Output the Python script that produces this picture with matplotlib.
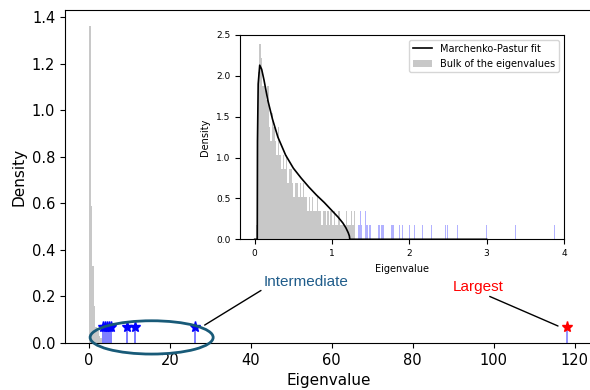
import numpy as np
import matplotlib
matplotlib.use('Agg')
import matplotlib.pyplot as plt
from matplotlib.patches import Ellipse

# ---- main panel data ----
main_bin_w = 0.4
main_density = [1.36, 0.59, 0.33, 0.16, 0.07, 0.05, 0.03, 0.02]
intermediate_eigs = [3.4, 3.9, 4.4, 4.9, 5.4, 9.3, 11.5, 26.2]
largest_eig = 118.2
marker_height = 0.07

# ---- inset data ----
inset_bin_w = 0.02
count_unit = 0.171   # density of one eigenvalue in a bin
bulk_counts = [0, 1, 12, 14, 13, 11, 11, 10, 11, 8,
               7, 9, 8, 7, 6, 8, 6, 5, 6, 5,
               6, 4, 5, 5, 4, 3, 4, 4, 3, 4,
               3, 4, 3, 3, 2, 3, 2, 3, 2, 2,
               3, 2, 2, 1, 2, 2, 1, 2, 1, 2,
               1, 2, 1, 1, 2, 1, 1, 1, 1, 2,
               1, 1, 2, 1, 2]
outlier_eigs = [1.34, 1.355, 1.37, 1.385, 1.40, 1.43, 1.445, 1.46, 1.48, 1.50, 1.53,
                1.60, 1.615, 1.64, 1.655, 1.67, 1.685,
                1.77, 1.785, 1.80, 1.815, 1.87, 1.91, 2.00, 2.07, 2.17, 2.29,
                2.47, 2.49, 2.62, 3.00, 3.37, 3.88]
outlier_counts = [1, 1, 2, 1, 2, 2, 1, 1, 1, 1, 2,
                  1, 1, 1, 1, 1, 1,
                  1, 1, 1, 1, 1, 1, 1, 1, 1, 1,
                  1, 1, 1, 1, 1, 1]
mp_x = [0.0, 0.033, 0.036, 0.045, 0.065, 0.09, 0.12, 0.17, 0.23, 0.30, 0.40,
        0.50, 0.60, 0.70, 0.80, 0.90, 1.00, 1.08, 1.14, 1.18, 1.21, 1.225,
        1.23, 3.0]
mp_y = [0, 0, 1.2, 1.9, 2.13, 2.08, 1.95, 1.70, 1.47, 1.25, 1.03,
        0.87, 0.75, 0.64, 0.54, 0.45, 0.35, 0.27, 0.2, 0.14, 0.08, 0.04,
        0, 0]

gray = '#c8c8c8'

fig = plt.figure(figsize=(5.9, 3.9), dpi=100)
ax = fig.add_axes([0.1102, 0.1205, 0.8932, 0.8538])

# main histogram
main_edges = np.arange(len(main_density)) * main_bin_w
ax.bar(main_edges, main_density, width=main_bin_w, align='edge', color=gray, linewidth=0)

# stems + stars
ax.vlines(intermediate_eigs, 0, marker_height, color='blue', alpha=0.6, lw=1.2)
ax.vlines([largest_eig], 0, marker_height, color='blue', alpha=0.5, lw=1.2)
ax.plot(intermediate_eigs, [marker_height] * len(intermediate_eigs), '*', color='blue', ms=8, lw=0)
ax.plot([largest_eig], [marker_height], '*', color='red', ms=8)

ax.set_xlim(-5.9, 124.3)
ax.set_ylim(0, 1.43)
ax.set_xticks([0, 20, 40, 60, 80, 100, 120])
ax.set_yticks(np.arange(0, 1.41, 0.2))
ax.tick_params(labelsize=10.5)
ax.spines['right'].set_visible(False)
ax.set_xlabel('Eigenvalue', fontsize=11)
ax.set_ylabel('Density', fontsize=11)

ell = Ellipse((15.5, 0.024), 30.4, 0.143, fill=False, edgecolor='#185a78', lw=2, clip_on=False, zorder=5)
ax.add_patch(ell)

ax.annotate('Intermediate', xy=(28.6, 0.077), xytext=(43.2, 0.263),
            color='#1f5c8a', fontsize=11, family='Liberation Sans', va='center',
            arrowprops=dict(arrowstyle='-', color='black', lw=1, relpos=(0, 0), shrinkA=0, shrinkB=0))
ax.annotate('Largest', xy=(115.9, 0.073), xytext=(89.9, 0.242),
            color='red', fontsize=11, family='Liberation Sans', va='center',
            arrowprops=dict(arrowstyle='-', color='black', lw=1, relpos=(0.6, 0), shrinkA=0, shrinkB=0))

# inset
axin = fig.add_axes([0.4068, 0.3864, 0.549, 0.524])
bulk_edges = np.arange(len(bulk_counts)) * inset_bin_w
axin.bar(bulk_edges, np.array(bulk_counts) * count_unit, width=inset_bin_w, align='edge',
         color=gray, linewidth=0, label='Bulk of the eigenvalues')
axin.bar(outlier_eigs, np.array(outlier_counts) * count_unit, width=0.011,
         color='blue', alpha=0.3, linewidth=0)
axin.plot(mp_x, mp_y, color='black', lw=1.2, label='Marchenko-Pastur fit')
axin.set_xlim(-0.19, 4.0)
axin.set_ylim(0, 2.5)
axin.set_xticks([0, 1, 2, 3, 4])
axin.set_yticks([0, 0.5, 1.0, 1.5, 2.0, 2.5])
axin.tick_params(labelsize=6.5)
axin.set_xlabel('Eigenvalue', fontsize=7)
axin.set_ylabel('Density', fontsize=7)
axin.legend(loc='upper right', fontsize=7)

fig.savefig('out.png', dpi=100)
